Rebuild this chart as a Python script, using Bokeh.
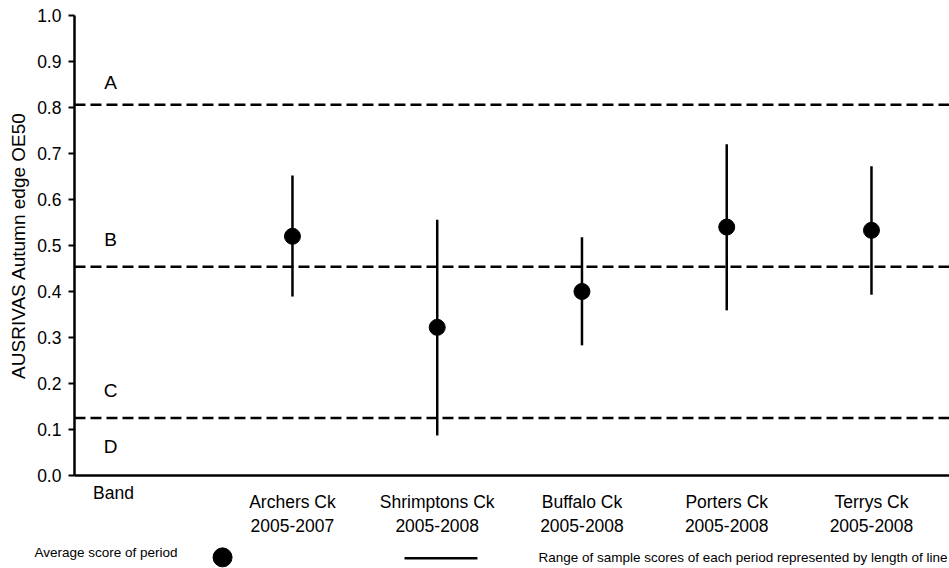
from bokeh.plotting import figure
from bokeh.models import Range1d, LinearAxis, FixedTicker, PrintfTickFormatter, ColumnDataSource
from bokeh.core.properties import value
from bokeh.embed import file_html
from bokeh.resources import INLINE

# Sites sampled and the period each one covers
sites = ["Archers Ck", "Shrimptons Ck", "Buffalo Ck", "Porters Ck", "Terrys Ck"]
periods = ["2005-2007", "2005-2008", "2005-2008", "2005-2008", "2005-2008"]

# AUSRIVAS autumn edge OE50 scores: period average and range of sample scores
mean_score = [0.520, 0.322, 0.400, 0.540, 0.533]
min_score = [0.389, 0.087, 0.283, 0.359, 0.393]
max_score = [0.652, 0.556, 0.518, 0.720, 0.672]

# Lower limits of the bands A, B, C (D runs down to zero)
band_names = ["A", "B", "C", "D"]
band_lower = [0.806, 0.454, 0.125, 0.0]
band_limits = [0.806, 0.454, 0.125]

yticks = [0.0, 0.1, 0.2, 0.3, 0.4, 0.5, 0.6, 0.7, 0.8, 0.9, 1.0]

FONT = "Liberation Sans"
site_x = list(range(1, len(sites) + 1))

# Frame covers the whole page; the axes sit at fixed data positions
X_LEFT, X_RIGHT = -0.506, 5.539
p = figure(width=949, height=568,
           x_range=Range1d(-1.017, 5.539), y_range=Range1d(-0.2022, 1.0326),
           output_backend="svg", toolbar_location=None,
           x_axis_location=None, y_axis_location=None, min_border=0)
p.outline_line_color = None
p.grid.visible = False
p.background_fill_color = "white"
p.border_fill_color = "white"

# Band boundaries
p.segment(x0=[X_LEFT] * len(band_limits), x1=[X_RIGHT] * len(band_limits),
          y0=band_limits, y1=band_limits,
          line_color="black", line_width=2.5, line_dash="11 5")

# Band letters, placed just above the lower limit of each band
band_src = ColumnDataSource(dict(x=[-0.257] * 4, y=band_lower, text=band_names,
                                 yoff=[-22, -27, -27, -29]))
p.text(x="x", y="y", text="text", y_offset="yoff", source=band_src,
       text_font=value(FONT), text_font_size="19px",
       text_align="center", text_baseline="middle", text_color="black")

# Range of sample scores and period averages
src = ColumnDataSource(dict(x=site_x, lo=min_score, hi=max_score, mean=mean_score))
p.segment(x0="x", x1="x", y0="lo", y1="hi", source=src,
          line_color="black", line_width=2.5)
p.scatter(x="x", y="mean", source=src, size=16,
          fill_color="black", line_color="black")

# Y axis
yaxis = LinearAxis(fixed_location=X_LEFT, bounds=(0, 1),
                   ticker=FixedTicker(ticks=yticks),
                   formatter=PrintfTickFormatter(format="%.1f"))
yaxis.axis_label = "AUSRIVAS Autumn edge OE50"
yaxis.axis_label_text_font = FONT
yaxis.axis_label_text_font_size = "19px"
yaxis.axis_label_text_font_style = "normal"
yaxis.axis_label_text_color = "black"
yaxis.axis_label_standoff = 5
yaxis.axis_line_width = 2.5
yaxis.axis_line_color = "black"
yaxis.major_tick_line_width = 2
yaxis.major_tick_line_color = "black"
yaxis.major_tick_out = 6
yaxis.major_tick_in = 0
yaxis.minor_tick_line_color = None
yaxis.major_label_text_font = FONT
yaxis.major_label_text_font_size = "17.5px"
yaxis.major_label_text_color = "black"
yaxis.major_label_standoff = 7
p.add_layout(yaxis, "left")

# X axis with site / period labels
xaxis = LinearAxis(fixed_location=0, bounds=(X_LEFT, X_RIGHT),
                   ticker=FixedTicker(ticks=site_x))
xaxis.major_label_overrides = {i: f"{s}\n{per}" for i, s, per in zip(site_x, sites, periods)}
xaxis.axis_line_width = 2.5
xaxis.axis_line_color = "black"
xaxis.major_tick_out = 0
xaxis.major_tick_in = 0
xaxis.minor_tick_line_color = None
xaxis.major_label_text_font = FONT
xaxis.major_label_text_font_size = "17.5px"
xaxis.major_label_text_color = "black"
xaxis.major_label_standoff = 17
p.add_layout(xaxis, "below")

p.text(x=[-0.236], y=[-0.037], text=["Band"], text_font=value(FONT),
       text_font_size="17.5px", text_align="center", text_baseline="middle",
       text_color="black")

# Key along the bottom
p.text(x=[-0.782], y=[-0.167], text=["Average score of period"], text_font=value(FONT),
       text_font_size="13.5px", text_align="left", text_baseline="middle",
       text_color="black")
p.scatter(x=[0.517], y=[-0.178], size=19, fill_color="black", line_color="black")
p.segment(x0=[1.774], x1=[2.278], y0=[-0.180], y1=[-0.180],
          line_color="black", line_width=2.5)
p.text(x=[5.525], y=[-0.178],
       text=["Range of sample scores of each period represented by length of line"],
       text_font=value(FONT), text_font_size="13.5px",
       text_align="right", text_baseline="middle", text_color="black")

open("out.html", "w").write(file_html(p, INLINE))
